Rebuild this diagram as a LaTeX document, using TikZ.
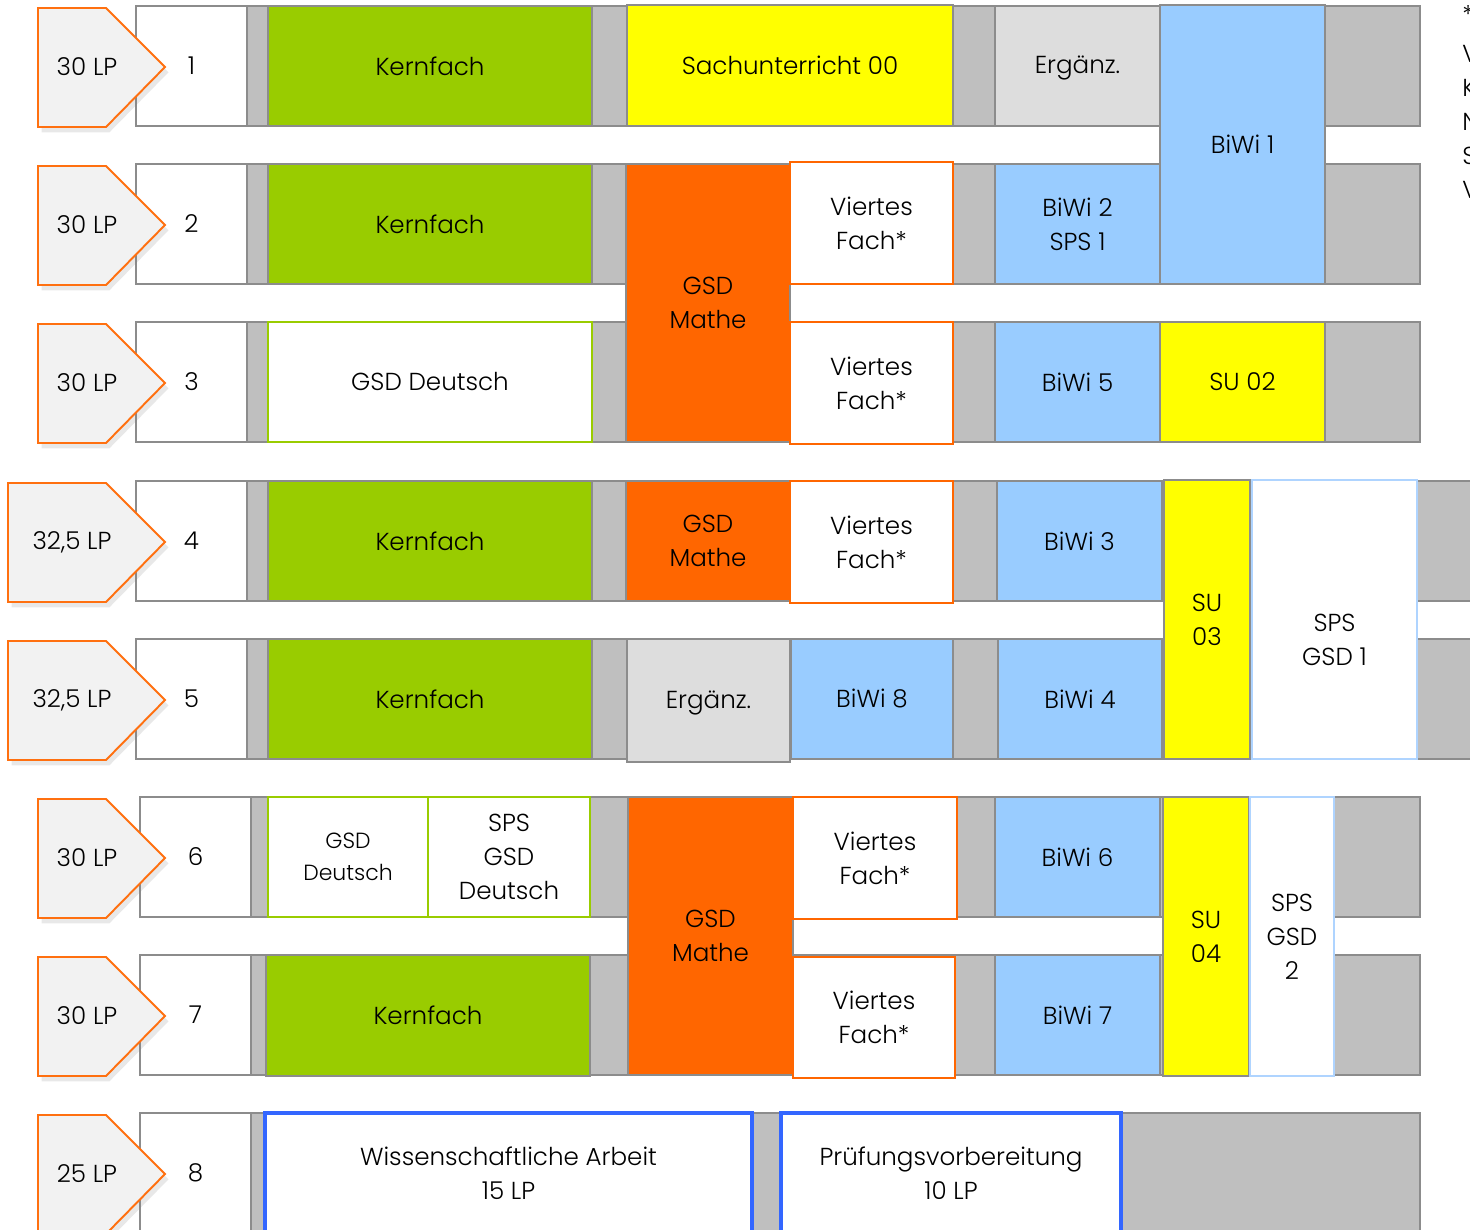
\documentclass[tikz,border=0pt]{standalone}
\usepackage{fontspec}
\setmainfont{Poppins}[UprightFont={* Light}]
\usetikzlibrary{shadows}
\definecolor{kerngreen}{RGB}{153,204,0}
\definecolor{suyellow}{RGB}{255,255,0}
\definecolor{gsdorange}{RGB}{255,102,0}
\definecolor{biwiblue}{RGB}{153,204,255}
\definecolor{erggray}{RGB}{221,221,221}
\definecolor{bargray}{RGB}{191,191,191}
\definecolor{linegray}{RGB}{140,140,140}
\definecolor{lpfill}{RGB}{242,242,242}
\definecolor{lpline}{RGB}{255,112,16}
\definecolor{thesisblue}{RGB}{51,102,255}
\definecolor{spsblue}{RGB}{175,212,255}
\newcommand\mainsize{\fontsize{14}{19.3}\selectfont}
\newcommand\smallsize{\fontsize{12.5}{18.2}\selectfont}

\begin{document}
\begin{tikzpicture}[
  x=0.02cm, y=-0.02cm,
  span/.style n args={4}{at={({(#1+#3)/2},{(#2+#4)/2})},
    minimum width={(#3-#1)*0.02cm}, minimum height={(#4-#2)*0.02cm}},
  cell/.style={inner sep=0pt, align=center, font=\mainsize, line width=1.1pt},
  bar/.style={cell, draw=linegray, fill=bargray},
  num/.style={cell, draw=linegray, fill=white},
  kern/.style={cell, draw=linegray, fill=kerngreen},
  su/.style={cell, draw=linegray, fill=suyellow},
  mathe/.style={cell, draw=linegray, fill=gsdorange},
  biwi/.style={cell, draw=linegray, fill=biwiblue},
  erg/.style={cell, draw=linegray, fill=erggray},
  viertes/.style={cell, draw=gsdorange, fill=white},
  deutsch/.style={cell, draw=kerngreen, fill=white},
  sps/.style={cell, draw=spsblue, fill=white},
  thesis/.style={cell, draw=thesisblue, fill=white, line width=2pt},
  lp/.style={draw=lpline, fill=lpfill, line width=1.1pt, line join=miter,
    drop shadow={shadow xshift=2pt, shadow yshift=-3pt, opacity=0.18}}
]
\useasboundingbox (0,0) rectangle (1470,1230);
\clip (0,0) rectangle (1470,1230);

% semesters: bar, number, LP arrow
\foreach \i/\y/\bx/\ex/\ax/\lp in {1/6/136/1420/38/30 LP, 2/164/136/1420/38/30 LP,
    3/322/136/1420/38/30 LP, 4/481/136/1500/8/{32,5 LP}, 5/639/136/1500/8/{32,5 LP},
    6/797/140/1420/38/30 LP, 7/955/140/1420/38/30 LP, 8/1113/140/1420/38/25 LP}{
  \node[bar, span={\bx}{\y}{\ex}{\y+120}] (bar\i) {};
  \node[num, span={\bx}{\y}{\bx+111}{\y+120}] (num\i) {\i};
  \draw[lp] (\ax,\y+2) -- (106,\y+2) -- (165,\y+61) -- (106,\y+121) -- (\ax,\y+121) -- cycle;
  \node[font=\mainsize] (lp\i) at ({(\ax+136)/2},\y+61) {\lp};
}

\node[kern, span={268}{6}{592}{126}] (kern1) {Kernfach};
\node[su, span={627}{5}{953}{126}] (su00) {Sachunterricht 00};
\node[erg, span={995}{6}{1160}{126}] (erg1) {\smash{Ergänz.}\rule[-1pt]{0pt}{11pt}};
\node[biwi, span={1160}{5}{1325}{284}] (biwi1) {BiWi 1};

\node[kern, span={268}{164}{592}{284}] (kern2) {Kernfach};
\node[mathe, span={626}{164}{790}{442}] (mathe2) {GSD\\Mathe};
\node[viertes, span={790}{162}{953}{284}] (viertes2) {Viertes\\Fach*};
\node[biwi, span={995}{164}{1160}{284}] (biwi2) {BiWi 2\\SPS 1};

\node[deutsch, span={268}{322}{592}{442}] (deutsch3) {GSD Deutsch};
\node[viertes, span={790}{322}{953}{444}] (viertes3) {Viertes\\Fach*};
\node[biwi, span={995}{322}{1160}{442}] (biwi5) {BiWi 5};
\node[su, span={1160}{322}{1325}{442}] (su02) {SU 02};

\node[kern, span={268}{481}{592}{601}] (kern4) {Kernfach};
\node[mathe, span={626}{481}{790}{601}] (mathe4) {GSD\\Mathe};
\node[viertes, span={790}{481}{953}{603}] (viertes4) {Viertes\\Fach*};
\node[biwi, span={997}{481}{1162}{601}] (biwi3) {BiWi 3};
\node[su, span={1164}{480}{1250}{759}] (su03) {SU\\03};
\node[sps, span={1252}{480}{1417}{759}] (sps1) {\strut\\SPS\\GSD 1};

\node[kern, span={268}{639}{592}{759}] (kern5) {Kernfach};
\node[erg, span={627}{639}{790}{762}] (erg5) {\smash{Ergänz.}\rule[-1pt]{0pt}{11pt}};
\node[biwi, span={791}{639}{953}{759}] (biwi8) {BiWi 8};
\node[biwi, span={998}{639}{1162}{759}] (biwi4) {BiWi 4};

\node[deutsch, font=\smallsize, span={268}{797}{428}{917}] (deutsch6) {GSD\\Deutsch};
\node[deutsch, span={428}{797}{590}{917}] (spsdeutsch) {SPS\\GSD\\Deutsch};
\node[mathe, span={628}{797}{793}{1075}] (mathe6) {GSD\\Mathe};
\node[viertes, span={793}{797}{957}{919}] (viertes6) {Viertes\\Fach*};
\node[biwi, span={995}{797}{1160}{917}] (biwi6) {BiWi 6};
\node[su, span={1163}{797}{1249}{1076}] (su04) {SU\\04};
\node[sps, span={1250}{797}{1334}{1076}] (sps2) {SPS\\GSD\\2};

\node[kern, span={266}{955}{590}{1076}] (kern7) {Kernfach};
\node[viertes, span={793}{957}{955}{1078}] (viertes7) {Viertes\\Fach*};
\node[biwi, span={995}{955}{1160}{1075}] (biwi7) {BiWi 7};

\node[thesis, span={265}{1113}{752}{1233}] (arbeit) {Wissenschaftliche Arbeit\\15 LP};
\node[thesis, span={781}{1113}{1121}{1233}] (pruefung) {Prüfungsvorbereitung\\10 LP};

\node[font=\mainsize, align=left, anchor=north west, inner sep=0pt] (note) at (1462,5)
  {*\\[3pt]V\\K\\N\\S\\V};
\end{tikzpicture}
\end{document}
